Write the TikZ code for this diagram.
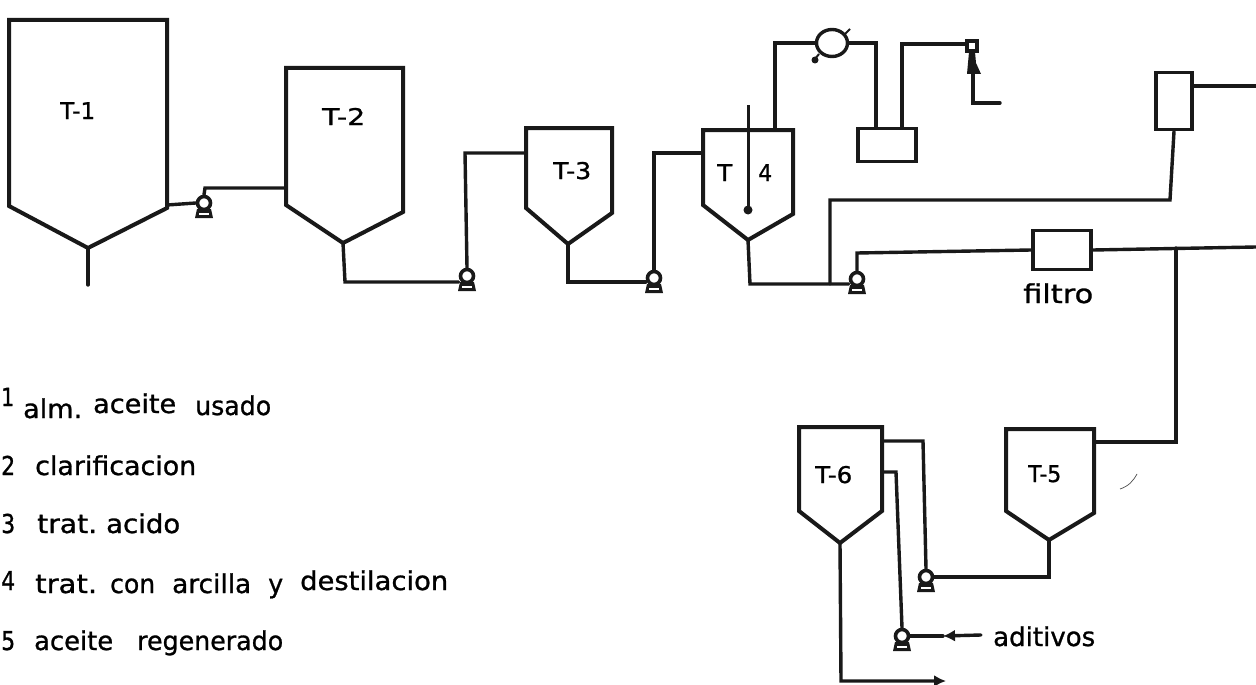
\documentclass[tikz,border=0pt]{standalone}
\usepackage{fontspec}
\usepackage{graphicx}
\setmainfont{DejaVu Sans}[FakeBold=1.0]
\usetikzlibrary{arrows.meta,shapes.geometric}
\tikzset{
  x=1pt,y=-1pt,
  pipe/.style={line width=3.4pt,line join=miter,line cap=round,black!90},
  vessel/.style={line width=4pt,line join=miter,black!90},
  boxunit/.style={draw=black!90,line width=3.8pt,inner sep=0pt,fill=white},
  pumphead/.style={circle,draw=black!90,line width=3.6pt,fill=white,inner sep=0pt,minimum size=13pt},
  tag/.style={inner sep=0pt,anchor=base west},
  flowtip/.style={-{Latex[length=12pt,width=12pt]}},
}
\newcommand{\tank}[8]{%
  \coordinate (#1tl) at (#2,#4);
  \coordinate (#1tr) at (#3,#4);
  \coordinate (#1bl) at (#2,#5);
  \coordinate (#1br) at (#3,#6);
  \coordinate (#1a) at (#7,#8);
  \draw[vessel] (#1tl) -- (#1tr) -- (#1br) -- (#1a) -- (#1bl) -- cycle;
}
\newcommand{\pumpunit}[3]{%
  \node[pumphead] (#1) at (#2,#3) {};
  \fill[black!90] (#2-7,#3+6) -- (#2+7,#3+6) -- (#2+9,#3+15) -- (#2-9,#3+15) -- cycle;
  \fill[white] (#2-5,#3+9.5) rectangle (#2+5,#3+11.5);
}
% name, x-left, x-right, baseline, size, text
\newcommand{\word}[6]{%
  \node[tag] (#1) at (#2,#4) {\resizebox{\dimexpr#3pt-#2pt\relax}{\height}{\fontsize{#5}{#5}\selectfont #6}};
}
\begin{document}
\begin{tikzpicture}
\useasboundingbox (0,0) rectangle (1256,685);
\clip (0,0) rectangle (1256,685);
\fill[white] (0,0) rectangle (1256,685);

% vessels
\tank{A}{9}{167}{20}{206}{208}{88}{248}
\tank{B}{286}{403}{68}{205}{212}{343}{243}
\tank{C}{526}{612}{128}{208}{213}{568}{244}
\tank{D}{703}{793}{130}{205}{214}{748}{240}
\tank{E}{1006}{1094}{429}{511}{513}{1049}{540}
\tank{F}{799}{882}{427}{511}{511}{840}{543}

% units
\node[boxunit,minimum width=58pt,minimum height=33pt] (cond) at (887,145) {};
\node[boxunit,minimum width=36pt,minimum height=57pt] (sep) at (1174,101) {};
\node[boxunit,minimum width=58pt,minimum height=39pt] (filt) at (1062,250) {};

% pumps
\pumpunit{p1}{204}{203}
\pumpunit{p2}{467}{276}
\pumpunit{p3}{654}{278}
\pumpunit{p4}{857}{279}
\pumpunit{p5}{926}{577}
\pumpunit{p6}{902}{636}

% free ends
\coordinate (Atail) at (88,285);
\coordinate (Aout) at (167,205);
\coordinate (Bin) at (286,188);
\coordinate (Cin) at (526,153);
\coordinate (Din) at (703,153);
\coordinate (Dtop) at (775,130);
\coordinate (Eout) at (1094,442);
\coordinate (Fout1) at (882,441);
\coordinate (Fout2) at (882,472);
\coordinate (exit1) at (1256,86);
\coordinate (exit2) at (1256,247);
\coordinate (vent) at (1000,103);
\coordinate (adit) at (981,635);
\coordinate (aditm) at (943,636);
\coordinate (prod) at (946,681);

% tails and lines
\draw[pipe] (Aa) -- (Atail);
\draw[pipe] (Aout) -- (p1.west);
\draw[pipe] (p1.north) -- (205,188) -- (Bin);
\draw[pipe] (Ba) -- (345,282) -- (p2.west |- 0,282);
\draw[pipe] (p2.north) -- (465,153) -- (Cin);
\draw[pipe] (Ca) -- (568,282) -- (p3.west |- 0,282);
\draw[pipe] (p3.north) -- (654,153) -- (Din);
\draw[pipe] (Da) -- (750,284) -- (p4.west |- 0,284);
\draw[pipe] (830,284) -- (830,200) -- (1170,200) -- (sep.south);
\draw[pipe] (p4.north) -- (857,253) -- (filt.west);
\draw[pipe] (filt.east) -- (exit2);
\draw[pipe] (sep.east |- exit1) -- (exit1);
\draw[pipe] (1176,248) -- (1176,442) -- (Eout);
\draw[pipe] (Ea) -- (1049,577) -- (p5.east);
\draw[pipe] (p5.north) -- (923,441) -- (Fout1);
\draw[pipe] (Fout2) -- (896,472) -- (p6.north);
\draw[pipe,flowtip] (adit) -- (aditm);
\draw[pipe] (aditm) -- (p6.east);
\draw[pipe,flowtip] (Fa) -- (841,681) -- (prod);

% agitator
\draw[line width=3pt,black!90] (748,105) -- (748,210);
\fill[black!90] (748,210) circle (4.5pt);

% condenser and ejector
\node[ellipse,draw=black!90,line width=3.4pt,fill=white,minimum width=31pt,minimum height=27pt,inner sep=0pt] (hx) at (832,43) {};
\draw[pipe] (Dtop) -- (775,43) -- (hx.west);
\draw[pipe] (hx.east) -- (876,43) -- (876,128);
\draw[line width=2pt,black!90] (845,34) -- (850,29);
\draw[line width=2pt,black!90] (819,54) -- (815,59);
\fill[black!90] (815,60) circle (3.5pt);
\node[draw=black!90,line width=3.4pt,fill=white,minimum size=10pt,inner sep=0pt] (ej) at (972,46) {};
\draw[pipe] (902,128) -- (902,44) -- (ej.west |- 0,44);
\fill[black!90] (969,52) -- (975,52) -- (976,63) -- (981,74) -- (967,74) -- (968,63) -- cycle;
\draw[pipe] (973,74) -- (973,103) -- (vent);

% stray pen mark
\draw[line width=0.7pt,black!70] (1120,489) .. controls (1129,486) and (1133,481) .. (1137,474);

% vessel labels
\word{tA}{60}{95}{119}{23}{T-1}
\word{tB}{322}{365}{125}{23}{T-2}
\word{tC}{553}{591}{179}{23}{T-3}
\word{tD1}{717}{732}{181}{23}{T}
\word{tD2}{758}{772}{181}{23}{4}
\word{tE}{1028}{1061}{482}{23}{T-5}
\word{tF}{815}{852}{483}{23}{T-6}
\word{tfilt}{1023}{1093}{303}{26}{filtro}
\word{tadit}{993}{1095}{646}{26}{aditivos}

% legend
\word{n1}{1}{14}{406}{25}{1}
\word{l1a}{23}{82}{418}{26}{alm.}
\word{l1b}{93}{176}{413}{26}{aceite}
\word{l1c}{195}{271}{415}{26}{usado}
\word{n2}{1}{15}{475}{26}{2}
\word{l2}{35}{196}{475}{26}{clarificacion}
\word{n3}{1}{15}{533}{26}{3}
\word{l3a}{37}{97}{533}{26}{trat.}
\word{l3b}{106}{180}{533}{26}{acido}
\word{n4}{1}{15}{590}{26}{4}
\word{l4a}{35}{97}{593}{26}{trat.}
\word{l4b}{110}{155}{593}{26}{con}
\word{l4c}{172}{251}{593}{26}{arcilla}
\word{l4d}{268}{283}{593}{26}{y}
\word{l4e}{300}{448}{590}{26}{destilacion}
\word{n5}{1}{15}{650}{26}{5}
\word{l5a}{34}{113}{650}{26}{aceite}
\word{l5b}{137}{283}{650}{26}{regenerado}
\end{tikzpicture}
\end{document}
